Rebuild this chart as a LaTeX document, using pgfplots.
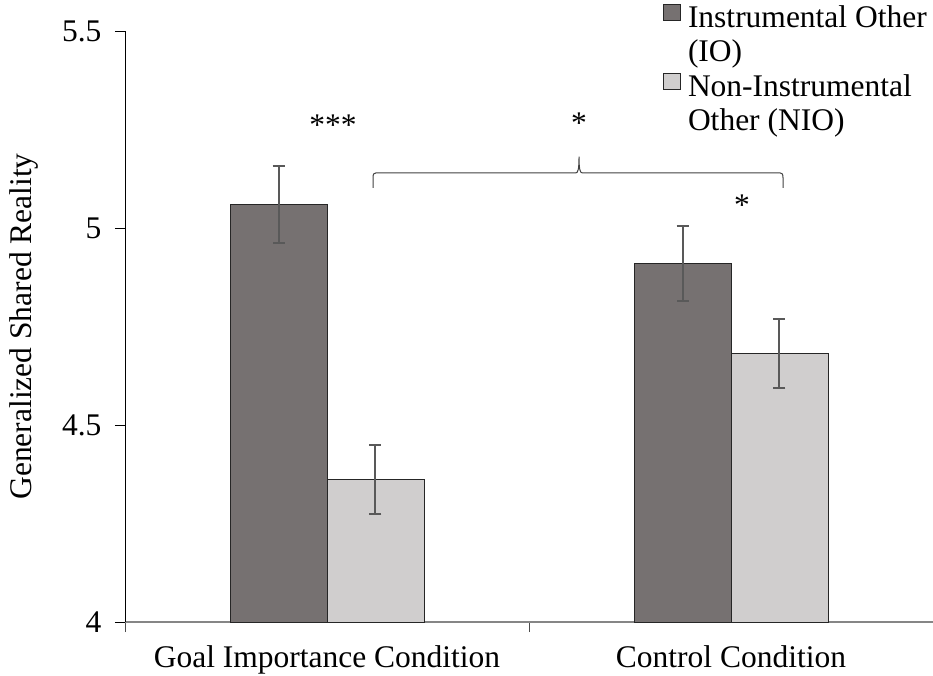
\documentclass[border=0pt]{standalone}
\usepackage{fontspec}
\setmainfont{Liberation Serif}
\usepackage{pgfplots}
\pgfplotsset{compat=1.18}
\definecolor{darkbar}{HTML}{767171}
\definecolor{lightbar}{HTML}{D0CECE}
\definecolor{errgray}{HTML}{595959}
\definecolor{axgray}{HTML}{868686}
\newcommand{\fs}{\fontsize{31.5}{36}\selectfont}
\begin{document}
\begin{tikzpicture}
\begin{axis}[
  name=ax,
  scale only axis, width=808pt, height=591pt,
  xmin=-0.5, xmax=1.5, ymin=4, ymax=5.5,
  axis lines*=left,
  x axis line style={draw=axgray, line width=1.5pt},
  y axis line style={draw=black, line width=0.7pt},
  tick align=outside,
  major tick length=10pt, minor tick length=10pt,
  ytick={4,4.5,5,5.5},
  ytick style={draw=black, line width=0.7pt},
  xtick={0,1},
  xticklabels={Goal Importance Condition, Control Condition},
  xtick style={draw=none},
  minor xtick={-0.5,0.5,1.5},
  minor x tick style={draw=black!70, line width=0.7pt},
  ticklabel style={font=\fs},
  /pgf/number format/assume math mode=true,
  yticklabel style={xshift=-10pt},
  xticklabel style={yshift=-10pt},
  ylabel={Generalized Shared Reality},
  ylabel style={font=\fs, at={(axis description cs:-0.125,0.5)}, anchor=center},
  clip=false,
  legend style={at={(1,1)}, anchor=north east, yshift=28.25pt, xshift=-3pt, draw=none, fill=none,
    font=\fs, inner sep=0pt, row sep=0pt, column sep=0pt,
    nodes={text height=22pt, text depth=8pt, inner ysep=2.25pt, inner xsep=3pt}},
  legend cell align=left,
  eb/.style={error bars/.cd, y dir=both, y explicit,
    error bar style={draw=errgray, line width=2pt},
    error mark options={rotate=90, mark size=6pt, draw=errgray, line width=2pt}},
]
\addplot[ybar, bar width=0.24, bar shift=0, fill=darkbar, draw=black!85, line width=0.7pt, forget plot, eb]
  coordinates {(-0.12,5.06) +- (0,0.097) (0.88,4.91) +- (0,0.095)};
\addplot[ybar, bar width=0.24, bar shift=0, fill=lightbar, draw=black!85, line width=0.7pt, forget plot, eb]
  coordinates {(0.12,4.362) +- (0,0.087) (1.12,4.682) +- (0,0.088)};

\addlegendimage{legend image code/.code={\draw[fill=darkbar,draw=black!85,line width=0.7pt] (0pt,0pt) rectangle (17pt,16pt); \path (21pt,0pt);}}
\addlegendentry{Instrumental Other}
\addlegendimage{empty legend}
\addlegendentry{(IO)}
\addlegendimage{legend image code/.code={\draw[fill=lightbar,draw=black!85,line width=0.7pt] (0pt,0pt) rectangle (17pt,16pt); \path (21pt,0pt);}}
\addlegendentry{Non-Instrumental}
\addlegendimage{empty legend}
\addlegendentry{Other (NIO)}

% significance annotations
\node[font=\fs, anchor=base] at (axis cs:0.015,5.236) {***};
\node[font=\fs, anchor=base] at (axis cs:0.6238,5.241) {*};
\node[font=\fs, anchor=base] at (axis cs:1.027,5.031) {*};
\draw[line width=1pt, black!75]
  (axis cs:0.1139,5.102) -- (axis cs:0.1139,5.128)
  .. controls (axis cs:0.1139,5.137) and (axis cs:0.1164,5.140) .. (axis cs:0.1214,5.140)
  -- (axis cs:0.6163,5.140)
  .. controls (axis cs:0.6213,5.140) and (axis cs:0.6238,5.150) .. (axis cs:0.6238,5.181)
  .. controls (axis cs:0.6238,5.150) and (axis cs:0.6263,5.140) .. (axis cs:0.6313,5.140)
  -- (axis cs:1.1212,5.140)
  .. controls (axis cs:1.1262,5.140) and (axis cs:1.1287,5.137) .. (axis cs:1.1287,5.128)
  -- (axis cs:1.1287,5.102);
\end{axis}
\pgfresetboundingbox
\path ([xshift=-125pt,yshift=-53pt]ax.south west) rectangle ([yshift=31pt]ax.north east);
\end{tikzpicture}
\end{document}
